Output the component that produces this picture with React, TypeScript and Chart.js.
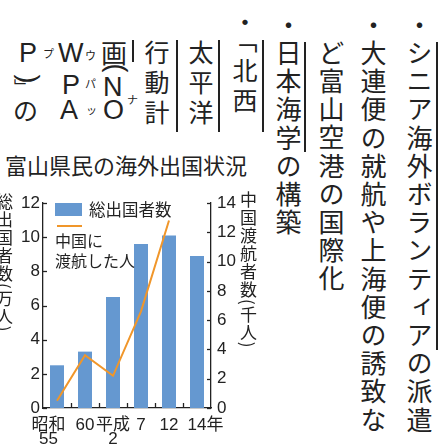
import React, { useEffect, useRef } from "react";
import { Chart, registerables } from "chart.js";

Chart.register(...registerables);

// ---- chart data ----
const categories: (string | string[])[] = [["昭和\u3000", "55\u3000"], "60", ["平成", "2"], "7", "12", "\u300014年"];
const totalDepartures = [2.5, 3.3, 6.5, 9.6, 10.1, 8.9]; // 万人
const chinaTravelers = [0.5, 3.6, 2.2, 6.6, 12.8, null]; // 千人
const leftTicks = [0, 2, 4, 6, 8, 10, 12];
const rightTicks = [0, 2, 4, 6, 8, 10, 12, 14];

const BAR = "#6598d0";
const ORANGE = "#f0962a";
const INK = "#222";
const CJK = "'Noto Sans CJK JP', sans-serif";
const LAT = "'Liberation Sans', Arial, 'Noto Sans CJK JP', sans-serif";

const inwardTicks = {
  id: "inwardTicks",
  afterDraw(chart: any) {
    const ctx = chart.ctx;
    const { left, right, bottom } = chart.chartArea;
    ctx.save();
    ctx.strokeStyle = INK;
    ctx.lineWidth = 1.3;
    const ys = chart.scales.y;
    leftTicks.forEach((v) => {
      const p = Math.round(ys.getPixelForValue(v)) + 0.5;
      ctx.beginPath(); ctx.moveTo(left, p); ctx.lineTo(left + 4, p); ctx.stroke();
    });
    const y1 = chart.scales.y1;
    rightTicks.forEach((v) => {
      const p = Math.round(y1.getPixelForValue(v)) + 0.5;
      ctx.beginPath(); ctx.moveTo(right - 4, p); ctx.lineTo(right, p); ctx.stroke();
    });
    const xs = chart.scales.x;
    for (let i = 0; i < categories.length - 1; i++) {
      const p = Math.round((xs.getPixelForValue(i) + xs.getPixelForValue(i + 1)) / 2) + 0.5;
      ctx.beginPath(); ctx.moveTo(p, bottom); ctx.lineTo(p, bottom - 5); ctx.stroke();
    }
    ctx.restore();
  },
};

function V(p: { x: number; y: number; size: number; sp?: number; text: string; font?: string }) {
  return (
    <div style={{ position: "absolute", left: p.x, top: p.y, writingMode: "vertical-rl", fontFamily: p.font || CJK, fontSize: p.size, letterSpacing: p.sp || 0, lineHeight: 1, whiteSpace: "nowrap" }}>
      {p.text}
    </div>
  );
}
function G(p: { x: number; y: number; size: number; text: string; font?: string }) {
  return (
    <div style={{ position: "absolute", left: p.x, top: p.y, fontFamily: p.font || CJK, fontSize: p.size, lineHeight: 1, whiteSpace: "nowrap" }}>
      {p.text}
    </div>
  );
}
// a glyph turned a quarter turn, centred at (cx, cy) – vertical-form brackets
function R(p: { cx: number; cy: number; size: number; text: string; font?: string }) {
  return (
    <div style={{ position: "absolute", left: p.cx, top: p.cy, fontFamily: p.font || LAT, fontSize: p.size, lineHeight: 1, whiteSpace: "nowrap", transform: "translate(-50%, -50%) rotate(90deg)" }}>
      {p.text}
    </div>
  );
}
function Rule(p: { x: number; y: number; h: number }) {
  return <div style={{ position: "absolute", left: p.x, top: p.y, width: 1.5, height: p.h, background: INK }} />;
}

export default function App() {
  const ref = useRef<HTMLCanvasElement>(null);
  useEffect(() => {
    if (!ref.current) return;
    const chart = new Chart(ref.current, {
      type: "bar",
      data: {
        labels: categories as any,
        datasets: [
          {
            type: "line",
            label: "中国に渡航した人",
            data: chinaTravelers as any,
            yAxisID: "y1",
            borderColor: ORANGE,
            borderWidth: 2,
            pointRadius: 0,
            tension: 0,
            spanGaps: false,
            order: 0,
          } as any,
          {
            type: "bar",
            label: "総出国者数",
            data: totalDepartures,
            yAxisID: "y",
            backgroundColor: BAR,
            barPercentage: 0.5,
            categoryPercentage: 1,
            order: 1,
          } as any,
        ],
      },
      options: {
        animation: false,
        responsive: false,
        devicePixelRatio: 1,
        layout: { padding: { top: 18, left: 0, right: 0, bottom: 0 } },
        plugins: { legend: { display: false }, tooltip: { enabled: false }, title: { display: false } },
        scales: {
          x: {
            grid: { display: false, drawTicks: false },
            border: { display: true, color: INK, width: 1.3 },
            ticks: { color: INK, font: { family: LAT, size: 17, lineHeight: 0.85 }, padding: 10, maxRotation: 0, autoSkip: false },
            afterFit: (s: any) => { s.height = 39; },
          },
          y: {
            position: "left",
            min: 0,
            max: 12,
            grid: { display: false, drawTicks: false },
            border: { display: true, color: INK, width: 1.3 },
            ticks: { stepSize: 2, color: INK, font: { family: LAT, size: 17 }, padding: 3 },
            afterFit: (s: any) => { s.width = 43; },
          },
          y1: {
            position: "right",
            min: 0,
            max: 14,
            grid: { display: false, drawTicks: false },
            border: { display: true, color: INK, width: 1.3 },
            ticks: { stepSize: 2, color: INK, font: { family: LAT, size: 17 }, padding: 6 },
            afterFit: (s: any) => { s.width = 54; },
          },
        },
      },
      plugins: [inwardTicks],
    } as any);
    return () => chart.destroy();
  }, []);

  return (
    <div style={{ position: "absolute", left: 0, top: 0, width: 440, height: 447, overflow: "hidden", background: "#fff", color: INK }}>
      {/* right-hand article columns */}
      <V x={406} y={12} size={26} sp={2.2} text="・シニア海外ボランティアの派遣" />
      <V x={360} y={12} size={26} sp={2.2} text="・大連便の就航や上海便の誘致な" />
      <V x={318} y={40} size={26} sp={2.2} text="ど富山空港の国際化" />
      <V x={275} y={12} size={26} sp={2.2} text="・日本海学の構築" />
      <Rule x={436} y={42} h={308} />
      <Rule x={304} y={42} h={110} />

      {/* upper-left columns */}
      <V x={144} y={40} size={25} sp={5} text="行動計" />
      <V x={188} y={40} size={25} sp={5} text="太平洋" />
      <V x={232} y={10} size={25} sp={5} text="・「北西" />
      <Rule x={132} y={40} h={22} />
      <Rule x={176} y={40} h={92} />
      <Rule x={218} y={40} h={92} />
      <Rule x={262} y={40} h={92} />

      <G x={19} y={40} size={27} font={LAT} text="P" />
      <G x={43} y={48} size={11} text="プ" />
      <R cx={28} cy={79} size={27} text=")" />
      <G x={14} y={78} size={16} text="﹂" />
      <G x={13} y={97} size={25} text="の" />
      <G x={58} y={40} size={27} font={LAT} text="W" />
      <G x={85} y={50} size={11} text="ウ" />
      <G x={62} y={72} size={27} font={LAT} text="P" />
      <G x={85} y={78} size={11} text="パ" />
      <G x={60} y={97} size={27} font={LAT} text="A" />
      <G x={86} y={104} size={11} text="ッ" />
      <G x={101} y={39} size={26} text="画" />
      <R cx={116} cy={68} size={27} text="(" />
      <G x={103} y={74} size={27} font={LAT} text="N" />
      <G x={103} y={97} size={27} font={LAT} text="O" />
      <G x={127} y={94} size={11} text="ナ" />

      {/* chart title */}
      <G x={5} y={153} size={22} text="富山県民の海外出国状況" />

      <canvas ref={ref} width={265} height={262} style={{ position: "absolute", left: 0, top: 185, width: 265, height: 262 }} />

      {/* axis titles */}
      <V x={-4} y={193} size={17} sp={1} text="総出国者数(万人)" />
      <V x={240} y={191} size={17} sp={1} text="中国渡航者数(千人)" />

      {/* legend */}
      <div style={{ position: "absolute", left: 55, top: 203, width: 27, height: 13, background: BAR }} />
      <G x={89} y={201} size={16.5} text="総出国者数" />
      <div style={{ position: "absolute", left: 57, top: 225, width: 25, height: 2, background: ORANGE }} />
      <G x={55} y={232} size={16} text="中国に" />
      <G x={55} y={252} size={16} text="渡航した人" />
    </div>
  );
}
